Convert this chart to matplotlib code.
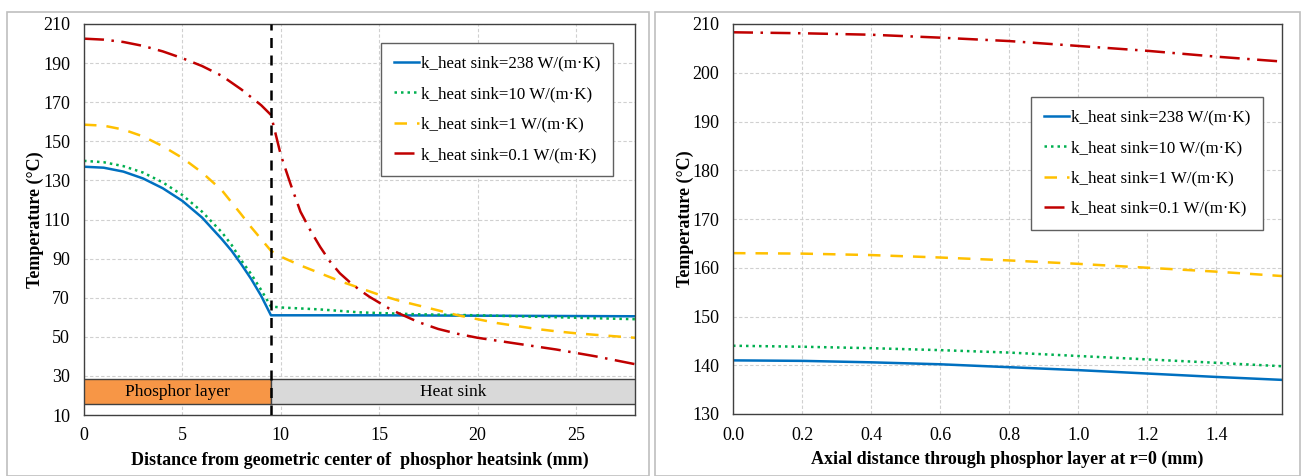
import matplotlib.pyplot as plt
from matplotlib.patches import Rectangle

# --- Data ---
labels = ['k_heat sink=238 W/(m·K)', 'k_heat sink=10 W/(m·K)',
          'k_heat sink=1 W/(m·K)', 'k_heat sink=0.1 W/(m·K)']

# left panel: radial profile
x_blue = [0, 1, 2, 3, 4, 5, 6, 7, 7.5, 8, 8.5, 9, 9.5, 15, 20, 28]
t_blue = [137, 136.5, 134.5, 131, 126, 119.5, 111, 100, 94, 87, 79.5, 71, 61, 61, 60.8, 60.5]
x_green = [0, 1, 2, 3, 4, 5, 6, 7, 7.5, 8, 8.5, 9, 9.5, 10, 12, 14, 17, 20, 24, 28]
t_green = [140, 139.3, 137.3, 134, 129, 122.5, 114, 103.5, 97, 89, 82, 74, 65.5, 65, 64, 62.5,
           61.5, 61, 60, 59]
x_yellow = [0, 1, 2, 3, 4, 5, 6, 7, 8, 8.5, 9, 9.5, 10, 11, 12, 13, 14, 15, 16, 17, 18, 19,
            20, 21, 22, 23, 24, 25, 26, 28]
t_yellow = [158.5, 158, 156, 152.5, 147.5, 141.5, 134, 125, 112.5, 106, 100, 94, 91, 86.5,
            82.5, 78.5, 75, 71.5, 68.5, 66, 63.5, 61, 59, 57, 55.5, 54, 52.8, 51.8, 51, 49.5]
x_red = [0, 1, 2, 3, 4, 5, 6, 7, 8, 8.5, 9, 9.5, 10, 10.5, 11, 11.5, 12, 12.5, 13, 13.5, 14,
         14.5, 15, 15.5, 16, 17, 18, 19, 20, 22, 24, 26, 28]
t_red = [202.5, 202, 200.8, 198.8, 196, 192.5, 188.5, 183.5, 176.5, 172.5, 168.5, 163.5, 143,
         128, 114, 104.5, 96, 88.5, 82.5, 78, 74, 70.5, 67.5, 64.5, 62, 57.5, 54, 51.5, 49.5,
         46.5, 43.5, 40, 36]

# right panel: axial profile at r=0
x_axial = [0, 0.2, 0.4, 0.6, 0.8, 1.0, 1.2, 1.4, 1.59]
t_axial = [
    [141, 140.9, 140.6, 140.2, 139.6, 139.0, 138.3, 137.6, 137.0],
    [144, 143.8, 143.5, 143.1, 142.6, 141.9, 141.2, 140.5, 139.8],
    [163, 162.9, 162.6, 162.1, 161.5, 160.8, 160.0, 159.2, 158.3],
    [208.3, 208.1, 207.8, 207.2, 206.5, 205.5, 204.5, 203.3, 202.3],
]

colors = ['#0070C0', '#00B050', '#FFC000', '#C00000']
styles = ['-', (0, (1, 1.6)), (0, (5, 4)), (0, (8, 3, 1, 3))]

plt.rcParams['font.family'] = 'Liberation Serif'

fig = plt.figure(figsize=(13.01, 4.76), dpi=100)

# panel frames
fig.patches.append(Rectangle((7 / 1301, 0), 642 / 1301, 1 - 12 / 476, transform=fig.transFigure,
                             fill=False, edgecolor='#BFBFBF', lw=1.2))
fig.patches.append(Rectangle((655 / 1301, 0), 645 / 1301, 1 - 12 / 476, transform=fig.transFigure,
                             fill=False, edgecolor='#BFBFBF', lw=1.2))

ax1 = fig.add_axes([84 / 1301, 1 - 415 / 476, 551 / 1301, 391 / 476])
ax2 = fig.add_axes([733 / 1301, 1 - 414 / 476, 549 / 1301, 390 / 476])


def style_axes(ax):
    ax.grid(True, color='#D0D0D0', linestyle=(0, (3, 2)), lw=0.8)
    ax.set_axisbelow(True)
    for s in ax.spines.values():
        s.set_color('#404040')
        s.set_linewidth(1.0)
    ax.tick_params(length=0, labelsize=13, pad=10)
    ax.tick_params(axis='x', pad=9)
    ax.set_ylabel('Temperature (°C)', fontsize=13, fontweight='bold', labelpad=-1)


def add_legend(ax, anchor):
    leg = ax.legend(loc='upper right', bbox_to_anchor=anchor, borderaxespad=0, fontsize=12.2,
                    fancybox=False, edgecolor='#606060', framealpha=1, handlelength=1.5,
                    handletextpad=0.1, labelspacing=0.85, borderpad=0.75)
    leg.get_frame().set_linewidth(1.0)


# --- left ---
xs = [x_blue, x_green, x_yellow, x_red]
ts = [t_blue, t_green, t_yellow, t_red]
for x, t, c, ls, lab in zip(xs, ts, colors, styles, labels):
    ax1.plot(x, t, color=c, linestyle=ls, lw=1.8, label=lab)

ax1.add_patch(Rectangle((0, 15.5), 9.5, 13, facecolor='#F79646', edgecolor='#404040', lw=1.0, zorder=3))
ax1.add_patch(Rectangle((9.5, 15.5), 18.5, 13, facecolor='#D9D9D9', edgecolor='#404040', lw=1.0, zorder=3))
ax1.text(4.75, 22, 'Phosphor layer', ha='center', va='center', fontsize=12.5, zorder=4)
ax1.text(18.75, 22, 'Heat sink', ha='center', va='center', fontsize=12.5, zorder=4)
ax1.axvline(9.5, color='black', linestyle=(0, (4, 3)), lw=1.8, zorder=5)

ax1.set_xlim(0, 28)
ax1.set_ylim(10, 210)
ax1.set_xticks([0, 5, 10, 15, 20, 25])
ax1.set_yticks(range(10, 211, 20))
ax1.set_xlabel('Distance from geometric center of  phosphor heatsink (mm)', fontsize=13,
               fontweight='bold', labelpad=5)
style_axes(ax1)
add_legend(ax1, (0.96, 0.951))

# --- right ---
for t, c, ls, lab in zip(t_axial, colors, styles, labels):
    ax2.plot(x_axial, t, color=c, linestyle=ls, lw=1.8, label=lab)

ax2.set_xlim(0, 1.59)
ax2.set_ylim(130, 210)
ax2.set_xticks([0, 0.2, 0.4, 0.6, 0.8, 1.0, 1.2, 1.4])
ax2.set_xticklabels(['0.0', '0.2', '0.4', '0.6', '0.8', '1.0', '1.2', '1.4'])
ax2.set_yticks(range(130, 211, 10))
ax2.set_xlabel('Axial distance through phosphor layer at r=0 (mm)', fontsize=13,
               fontweight='bold', labelpad=5)
style_axes(ax2)
add_legend(ax2, (0.965, 0.813))

fig.savefig('out.png', dpi=100)
